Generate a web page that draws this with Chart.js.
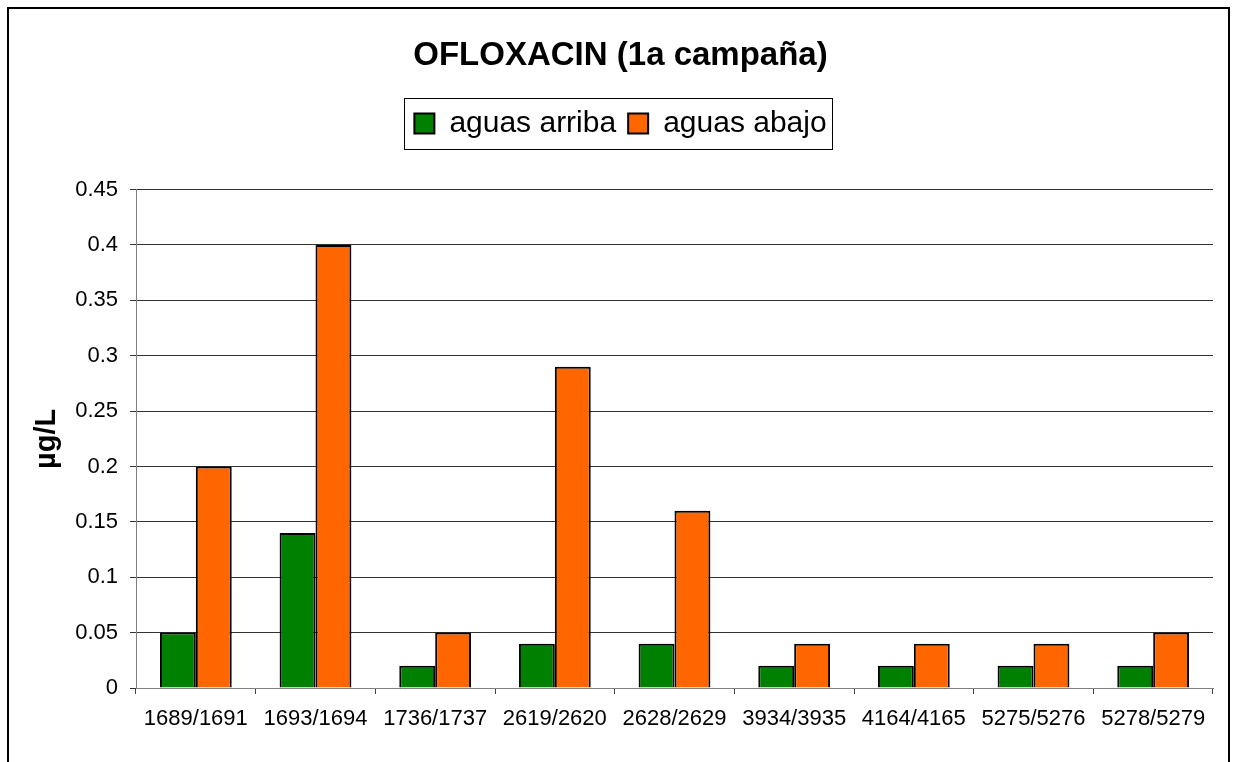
<!DOCTYPE html>
<html>
<head>
<meta charset="utf-8">
<script src="https://cdn.jsdelivr.net/npm/chart.js@4"></script>
<style>
  html, body { margin: 0; padding: 0; background: #fff; }
  #wrap { position: relative; width: 1233px; height: 762px; }
</style>
</head>
<body>
<div id="wrap"><canvas id="chart" width="1233" height="762"></canvas></div>
<script>
// data
var categories = ['1689/1691', '1693/1694', '1736/1737', '2619/2620', '2628/2629', '3934/3935', '4164/4165', '5275/5276', '5278/5279'];
var aguasArriba = [0.05, 0.14, 0.02, 0.04, 0.04, 0.02, 0.02, 0.02, 0.02];
var aguasAbajo  = [0.20, 0.40, 0.05, 0.29, 0.16, 0.04, 0.04, 0.04, 0.05];
var yTicks = [0, 0.05, 0.1, 0.15, 0.2, 0.25, 0.3, 0.35, 0.4, 0.45];
var seriesNames = ['aguas arriba', 'aguas abajo'];
var titleText = 'OFLOXACIN (1a campaña)';
var yTitle = 'µg/L';

Chart.defaults.font.family = "Arial, 'Liberation Sans', sans-serif";
Chart.defaults.color = '#000';

// outer frame + box round the legend
var framePlugin = {
    id: 'frame',
    afterInit: function(chart) {
        // leave room between legend and plot
        var lg = chart.legend;
        var oldFit = lg.fit;
        lg.fit = function() {
            oldFit.call(this);
            this.height += 41;
        };
    },
    afterDraw: function(chart) {
        var ctx = chart.ctx;
        ctx.save();
        ctx.strokeStyle = '#000';
        ctx.lineWidth = 2;
        ctx.strokeRect(8, 8, 1221, 800);

        var boxes = chart.legend.legendHitBoxes;
        if (boxes && boxes.length) {
            var l = Infinity, r = -Infinity, t = Infinity, b = -Infinity;
            boxes.forEach(function(h) {
                l = Math.min(l, h.left);
                r = Math.max(r, h.left + h.width);
                t = Math.min(t, h.top);
                b = Math.max(b, h.top + h.height);
            });
            ctx.lineWidth = 1;
            ctx.strokeStyle = '#000';
            ctx.strokeRect(Math.round(l - 10) + 0.5, Math.round(t - 11) + 0.5, Math.round(r - l + 16), Math.round(b - t + 21));
        }
        ctx.restore();
    }
};

new Chart(document.getElementById('chart'), {
    type: 'bar',
    data: {
        labels: categories,
        datasets: [
            {
                label: seriesNames[0],
                data: aguasArriba,
                backgroundColor: '#008000',
                borderColor: '#000',
                borderWidth: 2,
                categoryPercentage: 0.6,
                barPercentage: 1.0
            },
            {
                label: seriesNames[1],
                data: aguasAbajo,
                backgroundColor: '#FF6600',
                borderColor: '#000',
                borderWidth: 2,
                categoryPercentage: 0.6,
                barPercentage: 1.0
            }
        ]
    },
    options: {
        responsive: false,
        animation: false,
        devicePixelRatio: 1,
        layout: { padding: { left: 28, right: 20, top: 0, bottom: 0 } },
        plugins: {
            title: {
                display: true,
                text: titleText,
                font: { size: 33, weight: 'bold' },
                color: '#000',
                padding: { top: 36, bottom: 21 }
            },
            legend: {
                display: true,
                position: 'top',
                labels: {
                    font: { size: 30 },
                    color: '#000',
                    boxWidth: 20,
                    boxHeight: 20,
                    padding: 12
                }
            },
            tooltip: { enabled: false }
        },
        scales: {
            x: {
                grid: {
                    offset: true,
                    drawOnChartArea: false,
                    drawTicks: true,
                    tickLength: 6,
                    color: '#444'
                },
                border: { display: true, color: '#808080', width: 1 },
                ticks: {
                    font: { size: 22 },
                    color: '#000',
                    padding: 12,
                    maxRotation: 0,
                    autoSkip: false
                },
                afterFit: function(s) { s.height = 74; }
            },
            y: {
                min: 0,
                max: 0.45,
                afterBuildTicks: function(s) {
                    s.ticks = yTicks.map(function(v) { return { value: v }; });
                },
                ticks: {
                    font: { size: 22 },
                    color: '#000',
                    padding: 12,
                    callback: function(v) { return String(+v.toFixed(2)); }
                },
                grid: {
                    color: '#333',
                    tickLength: 6,
                    lineWidth: 1
                },
                border: { display: true, color: '#808080', width: 1 },
                title: {
                    display: true,
                    text: yTitle,
                    font: { size: 29, weight: 'bold' },
                    color: '#000',
                    padding: { top: 2, bottom: 0 }
                },
                afterFit: function(s) { s.width = 108; }
            }
        }
    },
    plugins: [framePlugin]
});
</script>
</body>
</html>
